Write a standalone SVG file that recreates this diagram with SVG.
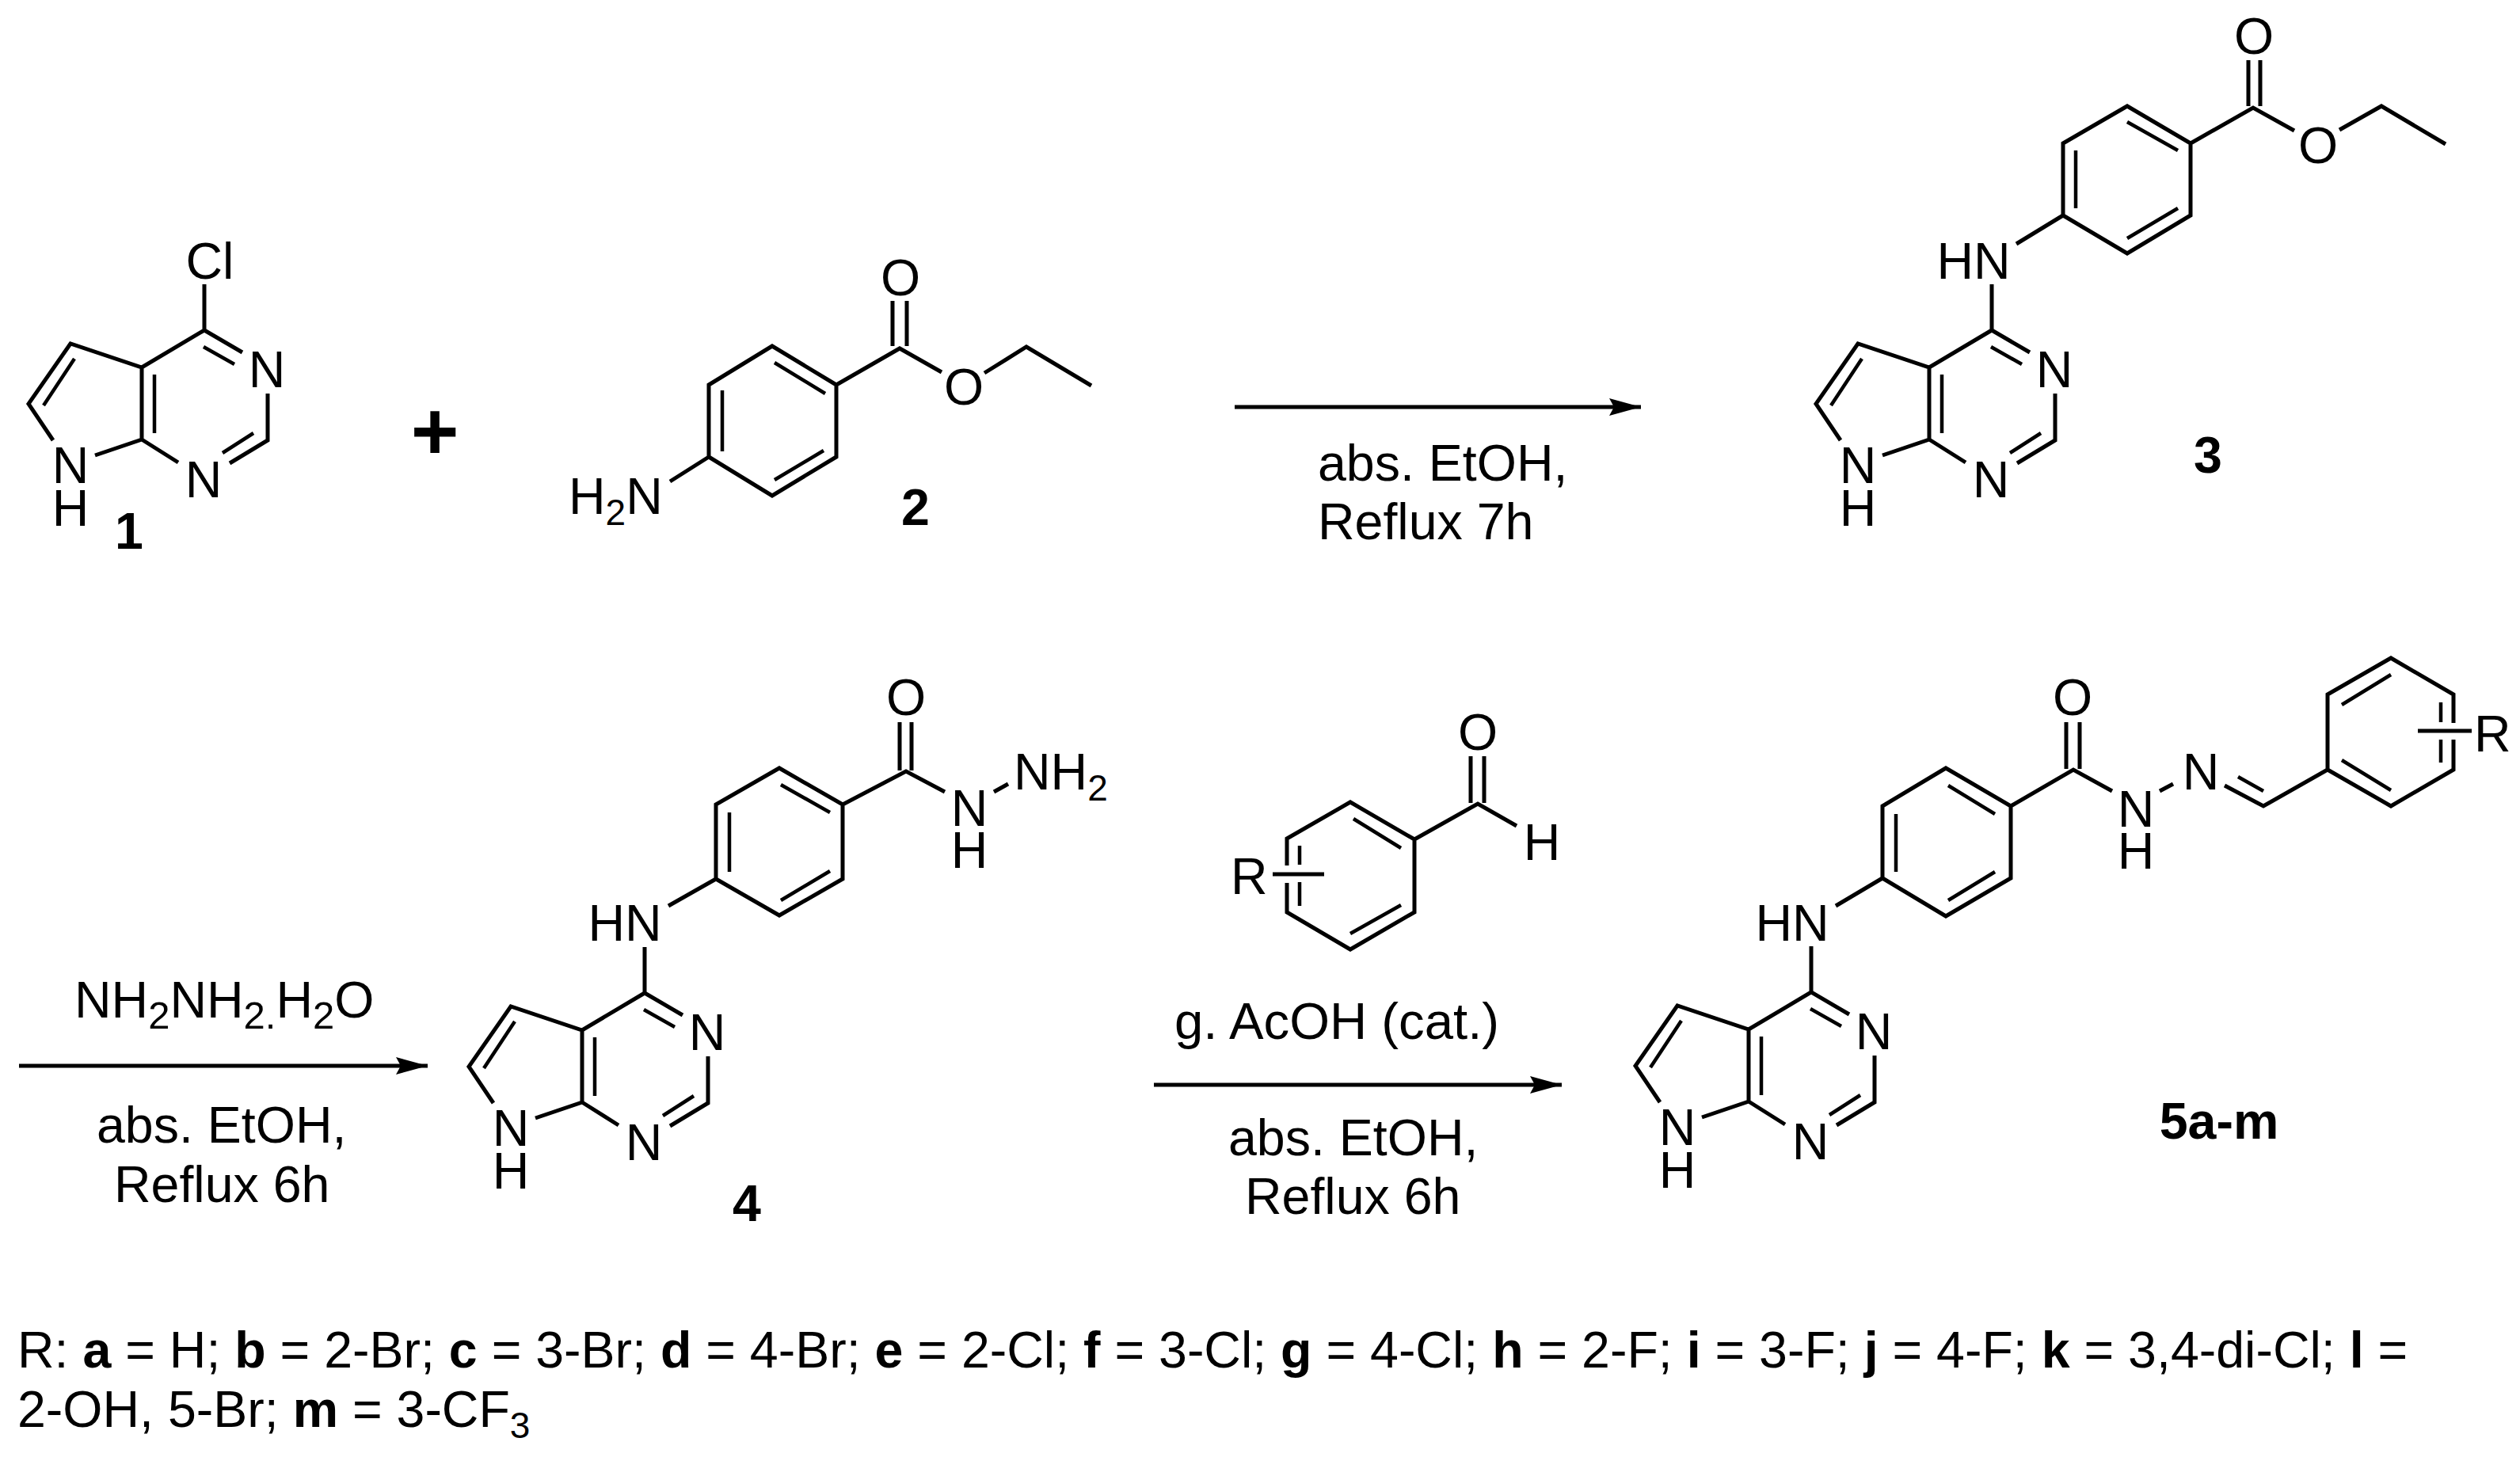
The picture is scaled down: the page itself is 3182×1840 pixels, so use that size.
<svg xmlns="http://www.w3.org/2000/svg" width="3182" height="1840" viewBox="0 0 3182 1840">
<defs>
<style>
text{font-family:"Liberation Sans",Arial,sans-serif;font-size:64.5px;fill:#000}
.m{text-anchor:middle}
.n{font-weight:700;text-anchor:middle}
.s{font-size:46px}
.t{font-size:49px}
.k{font-weight:700}
.b{fill:none;stroke:#000;stroke-width:5;stroke-linejoin:miter;stroke-linecap:butt}
.i{fill:none;stroke:#000;stroke-width:4.5}
.a{stroke:#000;stroke-width:5;fill:none}
</style>
<marker id="h" markerUnits="userSpaceOnUse" markerWidth="42" markerHeight="24" refX="40" refY="11" orient="auto"><path d="M40 11L0 0L6 11L0 22Z" fill="#000"/></marker>
</defs>
<rect width="3182" height="1840" fill="#fff"/>

<g id="mol1">
<path class="b" d="M258 359V417M67 556L36 510L89 434L179 464L258 417L306 445M179 464V555L120 575M179 555L225 584M338 497V556L290 585"/>
<path class="i" d="M94 453L55 512M195 473V547M257 438L296 460M320 547L281 572"/>
<text class="m" x="265" y="352">Cl</text>
<text class="m" x="337" y="489">N</text>
<text class="m" x="257" y="628">N</text>
<text class="m" x="89" y="610">N</text>
<text class="m" x="89" y="664">H</text>
<text class="n" x="163" y="693">1</text>
</g>

<text id="plus" class="n" x="549" y="580" style="font-size:104px">+</text>

<g id="mol2">
<path class="b" d="M1189 470L1136 440L1056 486V577L975 626L895 577V486L975 437L1056 486M895 577L846 608M1127 380V437M1145 380V437M1243 471L1296 438L1378 487"/>
<path class="i" d="M978 458L1042 497M912 493V570M1040 569L978 606"/>
<text x="718" y="649">H<tspan class="s" dy="14">2</tspan><tspan dy="-14">N</tspan></text>
<text class="m" x="1137" y="373">O</text>
<text class="m" x="1217" y="511">O</text>
<text class="n" x="1156" y="663">2</text>
</g>

<g id="mol3">
<g transform="translate(2257 0)">
<path class="b" d="M258 359V417M67 556L36 510L89 434L179 464L258 417L306 445M179 464V555L120 575M179 555L225 584M338 497V556L290 585"/>
<path class="i" d="M94 453L55 512M195 473V547M257 438L296 460M320 547L281 572"/>
<text class="m" x="337" y="489">N</text>
<text class="m" x="257" y="628">N</text>
<text class="m" x="89" y="610">N</text>
<text class="m" x="89" y="664">H</text>
</g>
<path class="b" d="M2897 165L2845 136L2766 181V272L2686 320L2605 272V181L2686 134L2766 181M2605 272L2546 308M2839 76V134M2854 76V134M2954 164L3007 134L3088 182"/>
<path class="i" d="M2686 154L2750 190M2621 190V263M2750 263L2686 301"/>
<text class="m" x="2492" y="352">HN</text>
<text class="m" x="2846" y="68">O</text>
<text class="m" x="2927" y="206">O</text>
<text class="n" x="2788" y="597">3</text>
</g>

<g id="mol4">
<g transform="translate(556 837)">
<path class="b" d="M258 359V417M67 556L36 510L89 434L179 464L258 417L306 445M179 464V555L120 575M179 555L225 584M338 497V556L290 585"/>
<path class="i" d="M94 453L55 512M195 473V547M257 438L296 460M320 547L281 572"/>
<text class="m" x="337" y="489">N</text>
<text class="m" x="257" y="628">N</text>
<text class="m" x="89" y="610">N</text>
<text class="m" x="89" y="664">H</text>
</g>
<path class="b" d="M1193 1000L1144 974L1064 1016V1110L984 1156L904 1110V1016L984 970L1064 1016M904 1110L844 1144M1136 912V973M1151 912V973M1255 1000L1273 990"/>
<path class="i" d="M986 991L1048 1026M921 1026V1101M1048 1100L986 1137"/>
<text class="m" x="789" y="1188">HN</text>
<text class="m" x="1144" y="903">O</text>
<text class="m" x="1224" y="1043">N</text>
<text class="m" x="1224" y="1096">H</text>
<text x="1280" y="997">NH<tspan class="s" dy="14">2</tspan></text>
<text class="n" x="943" y="1542">4</text>
</g>

<g id="aldehyde">
<path class="b" d="M1915 1043L1866 1015L1786 1060V1152L1705 1199L1625 1152V1115M1625 1093V1059L1705 1013L1786 1060M1857 955V1014M1874 955V1014M1607 1104H1672"/>
<path class="i" d="M1709 1034L1769 1071M1641 1068V1092M1641 1114V1144M1769 1143L1705 1179"/>
<text class="m" x="1866" y="947">O</text>
<text class="m" x="1947" y="1086">H</text>
<text x="1554" y="1129">R</text>
</g>

<g id="mol5">
<g transform="translate(2029 836)">
<path class="b" d="M258 359V417M67 556L36 510L89 434L179 464L258 417L306 445M179 464V555L120 575M179 555L225 584M338 497V556L290 585"/>
<path class="i" d="M94 453L55 512M195 473V547M257 438L296 460M320 547L281 572"/>
<text class="m" x="337" y="489">N</text>
<text class="m" x="257" y="628">N</text>
<text class="m" x="89" y="610">N</text>
<text class="m" x="89" y="664">H</text>
</g>
<path class="b" d="M2667 999L2618 972L2539 1018V1109L2457 1157L2377 1109V1018L2457 970L2539 1018M2377 1109L2318 1144M2609 912V971M2626 912V971M2727 999L2744 990M2809 992L2858 1018L2939 972V877L3019 831L3098 877V913M3098 934V972L3019 1018L2939 972M3053 923H3121"/>
<path class="i" d="M2460 992L2519 1028M2394 1028V1101M2519 1101L2460 1137M2826 981L2858 999M2957 890L3019 852M2957 960L3019 998M3082 887V912M3082 934V963"/>
<text class="m" x="2263" y="1188">HN</text>
<text class="m" x="2617" y="903">O</text>
<text class="m" x="2697" y="1044">N</text>
<text class="m" x="2697" y="1097">H</text>
<text class="m" x="2779" y="997">N</text>
<text x="3124" y="949">R</text>
<text class="n" x="2802" y="1438">5a-m</text>
</g>

<g id="connectors">
<path class="a" d="M1559 514H2072" marker-end="url(#h)"/>
<path class="a" d="M24 1346H540" marker-end="url(#h)"/>
<path class="a" d="M1457 1370H1972" marker-end="url(#h)"/>
</g>

<g id="labels">
<text x="1664" y="607">abs. EtOH,</text>
<text x="1664" y="681">Reflux 7h</text>
<text x="94" y="1285">NH<tspan class="t" dy="14">2</tspan><tspan dy="-14">NH</tspan><tspan class="t" dy="14">2.</tspan><tspan dy="-14">H</tspan><tspan class="t" dy="14">2</tspan><tspan dy="-14">O</tspan></text>
<text x="122" y="1443">abs. EtOH,</text>
<text x="144" y="1518">Reflux 6h</text>
<text x="1483" y="1312" style="font-size:65.3px">g. AcOH (cat.)</text>
<text x="1551" y="1459">abs. EtOH,</text>
<text x="1572" y="1533">Reflux 6h</text>
<text x="22" y="1727">R: <tspan class="k">a</tspan> = H; <tspan class="k">b</tspan> = 2-Br; <tspan class="k">c</tspan> = 3-Br; <tspan class="k">d</tspan> = 4-Br; <tspan class="k">e</tspan> = 2-Cl; <tspan class="k">f</tspan> = 3-Cl; <tspan class="k">g</tspan> = 4-Cl; <tspan class="k">h</tspan> = 2-F; <tspan class="k">i</tspan> = 3-F; <tspan class="k">j</tspan> = 4-F; <tspan class="k">k</tspan> = 3,4-di-Cl; <tspan class="k">l</tspan> =</text>
<text x="22" y="1802">2-OH, 5-Br; <tspan class="k">m</tspan> = 3-CF<tspan class="s" dy="14">3</tspan></text>
</g>
</svg>
